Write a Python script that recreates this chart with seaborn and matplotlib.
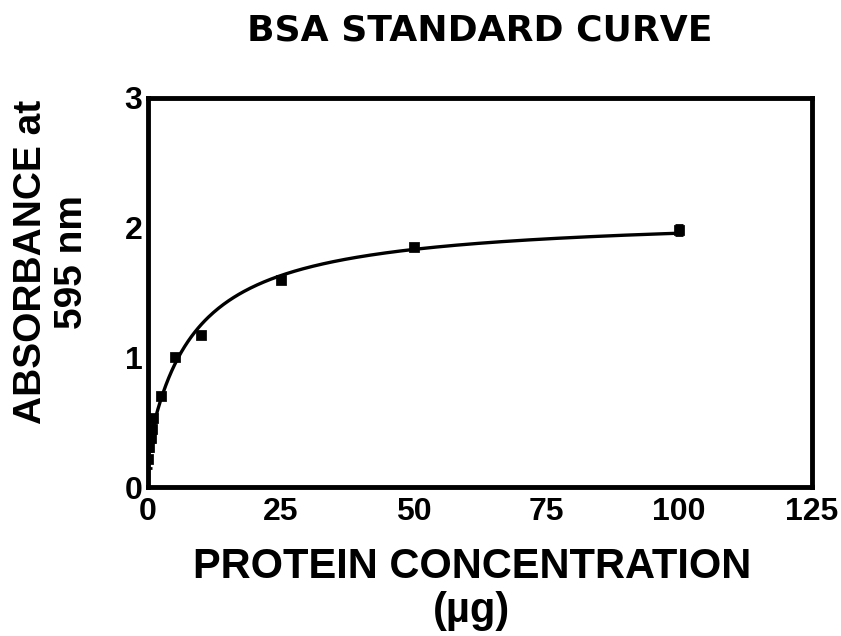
import numpy as np
import pandas as pd
import matplotlib
matplotlib.use("Agg")
import matplotlib.pyplot as plt
import seaborn as sns

# data
protein_ug = [0, 0.25, 0.5, 0.75, 1.0, 2.5, 5, 10, 25, 50, 100]
absorbance = [0.22, 0.31, 0.38, 0.45, 0.53, 0.70, 1.00, 1.17, 1.60, 1.85, 1.98]
abs_err = [0.07, 0.03, 0.03, 0.03, 0.03, 0.02, 0.02, 0.02, 0.02, 0.02, 0.04]
x_ticks = [0, 25, 50, 75, 100, 125]
y_ticks = [0, 1, 2, 3]

df = pd.DataFrame({"x": protein_ug, "y": absorbance, "err": abs_err})

# hyperbolic fit y = a + b*x/(c+x), grid over c, least squares for a, b
xs = np.array(protein_ug, dtype=float)
ys = np.array(absorbance, dtype=float)
best = None
for c in np.linspace(0.5, 30, 600):
    A = np.column_stack([np.ones_like(xs), xs / (c + xs)])
    coef, *_ = np.linalg.lstsq(A, ys, rcond=None)
    sse = np.sum((A @ coef - ys) ** 2)
    if best is None or sse < best[0]:
        best = (sse, c, coef)
_, c_fit, (a_fit, b_fit) = best
xf = np.concatenate([np.linspace(0, 5, 200), np.linspace(5, 100, 300)])
fit = pd.DataFrame({"x": xf, "y": a_fit + b_fit * xf / (c_fit + xf)})

sns.set_style("white")
plt.rcParams["font.family"] = ["Liberation Sans", "DejaVu Sans"]
plt.rcParams["font.weight"] = "bold"
plt.rcParams["text.color"] = "black"

fig = plt.figure(figsize=(8.41, 6.36), dpi=100)
ax = fig.add_axes([0.176, 0.234, 0.7895, 0.612])

sns.lineplot(data=fit, x="x", y="y", ax=ax, color="black", lw=2.4, sort=False)
ax.errorbar(df["x"], df["y"], yerr=df["err"], fmt="none", ecolor="black",
            elinewidth=2, capsize=3, capthick=2)
sns.scatterplot(data=df, x="x", y="y", ax=ax, marker="s", s=45, color="black",
                edgecolor="black", zorder=5)

ax.set_xlim(0, 125)
ax.set_ylim(0, 3)
ax.set_xticks(x_ticks)
ax.set_yticks(y_ticks)
ax.tick_params(direction="in", length=10, width=2.5, labelsize=23,
               colors="black")
ax.tick_params(axis="x", pad=7)
ax.tick_params(axis="y", pad=4)
for lab in ax.get_xticklabels() + ax.get_yticklabels():
    lab.set_fontweight("bold")
for s in ax.spines.values():
    s.set_linewidth(3.5)
    s.set_color("black")

ax.set_xlabel("")
ax.set_ylabel("")
fig.text(0.571, 0.952, "BSA STANDARD CURVE", ha="center", va="center",
         fontsize=26, fontweight="bold", family="DejaVu Sans")
fig.text(0.561, 0.074, "PROTEIN CONCENTRATION\n(µg)", ha="center", va="center",
         fontsize=30, fontweight="bold", linespacing=1.12)
fig.text(0.061, 0.588, "ABSORBANCE at\n595 nm", ha="center", va="center",
         rotation=90, fontsize=28, fontweight="bold", linespacing=1.2)

fig.savefig("out.png", dpi=100)
